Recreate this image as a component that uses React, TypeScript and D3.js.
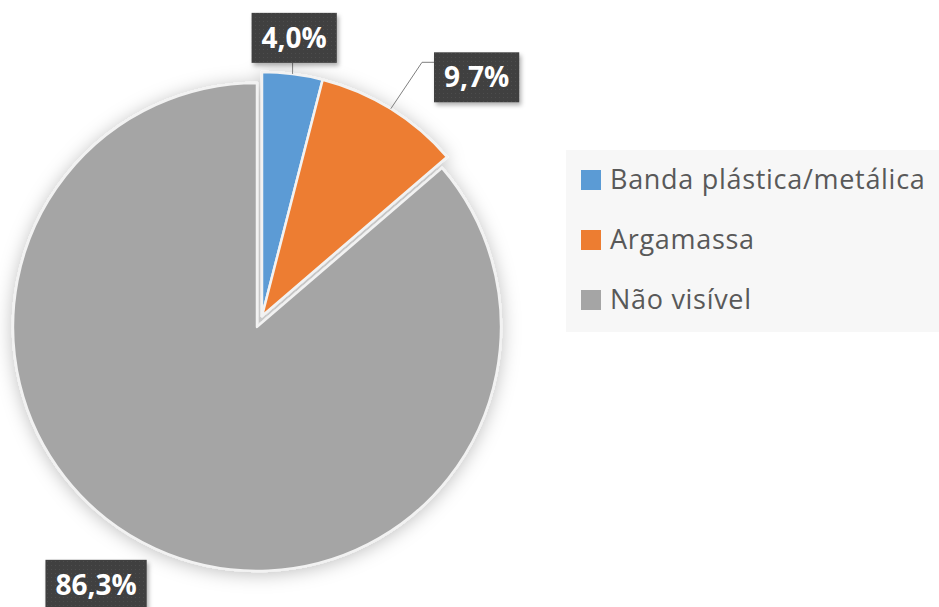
import React, { useEffect, useRef } from "react";
import * as d3 from "d3";

const categories = ["Banda plástica/metálica", "Argamassa", "Não visível"];
const values = [4.0, 9.7, 86.3];
const labels = ["4,0%", "9,7%", "86,3%"];
const colors = ["#5B9BD5", "#ED7D31", "#A5A5A5"];
// how far each slice is pulled out of the pie
const explode = [0, 0, 12];
// label placement: radius from centre and angle nudge (degrees)
const labelRadius = [280, 321, 304];
const labelNudge = [-0.6, 10.1, 7.3];

const W = 939;
const H = 607;

const App = () => {
  const svgRef = useRef<SVGSVGElement>(null);

  useEffect(() => {
    const svg = d3.select(svgRef.current);
    svg.selectAll("*").remove();

    const cx = 262;
    const cy = 316;
    const radius = 244;

    const defs = svg.append("defs");
    const sh = defs.append("filter").attr("id", "pieShadow")
      .attr("x", "-20%").attr("y", "-20%").attr("width", "140%").attr("height", "140%");
    sh.append("feDropShadow").attr("dx", 0).attr("dy", 2)
      .attr("stdDeviation", 9).attr("flood-color", "#000").attr("flood-opacity", 0.25);

    const bs = defs.append("filter").attr("id", "boxShadow")
      .attr("x", "-20%").attr("y", "-20%").attr("width", "150%").attr("height", "150%");
    bs.append("feDropShadow").attr("dx", 2).attr("dy", 3)
      .attr("stdDeviation", 2).attr("flood-color", "#000").attr("flood-opacity", 0.3);

    const pat = defs.append("pattern").attr("id", "dots")
      .attr("width", 4).attr("height", 4).attr("patternUnits", "userSpaceOnUse");
    pat.append("rect").attr("width", 4).attr("height", 4).attr("fill", "#404040");
    pat.append("rect").attr("x", 1).attr("y", 1).attr("width", 1).attr("height", 1).attr("fill", "#4d4d4d");

    const pie = d3.pie<number>().sort(null).value(d => d);
    const arcs = pie(values);
    const arc = d3.arc<d3.PieArcDatum<number>>().innerRadius(0).outerRadius(radius);

    const g = svg.append("g").attr("transform", `translate(${cx},${cy})`);

    const offset = (d: d3.PieArcDatum<number>, i: number) => {
      const mid = (d.startAngle + d.endAngle) / 2;
      return [Math.sin(mid) * explode[i], -Math.cos(mid) * explode[i]];
    };

    g.append("g").attr("filter", "url(#pieShadow)")
      .selectAll("path")
      .data(arcs)
      .join("path")
      .attr("transform", (d, i) => { const [x, y] = offset(d, i); return `translate(${x},${y})`; })
      .attr("d", arc)
      .attr("fill", (d, i) => colors[i])
      .attr("stroke", "#f2f2f2")
      .attr("stroke-width", 2.5)
      .attr("stroke-linejoin", "round");

    // data labels
    arcs.forEach((d, i) => {
      const mid = (d.startAngle + d.endAngle) / 2;
      const [ox, oy] = offset(d, i);
      const anchor = [ox + Math.sin(mid) * radius, oy - Math.cos(mid) * radius];
      const a = mid + (labelNudge[i] * Math.PI) / 180;
      const lc = [ox + Math.sin(a) * labelRadius[i], oy - Math.cos(a) * labelRadius[i]];

      const lg = g.append("g");
      const t = lg.append("text")
        .attr("x", lc[0]).attr("y", lc[1] + 10)
        .attr("text-anchor", "middle")
        .attr("font-family", "'Open Sans', sans-serif")
        .attr("font-weight", 700)
        .attr("font-size", 28)
        .attr("fill", "#fff")
        .text(labels[i]);
      const bb = (t.node() as SVGTextElement).getBBox();
      const bw = bb.width + 20;
      const bh = 50;
      const bx = lc[0] - bw / 2;
      const by = lc[1] - bh / 2;

      // leader line
      if (i === 0) {
        g.insert("path", () => lg.node())
          .attr("d", `M${anchor[0]},${anchor[1]}L${anchor[0]},${by + bh}`)
          .attr("stroke", "#7f7f7f").attr("stroke-width", 1).attr("fill", "none");
      } else if (i === 1) {
        const elbowX = bx - 12;
        const ly = by + 10;
        g.insert("path", () => lg.node())
          .attr("d", `M${anchor[0]},${anchor[1]}L${elbowX},${ly}L${bx},${ly}`)
          .attr("stroke", "#7f7f7f").attr("stroke-width", 1).attr("fill", "none");
      }

      lg.insert("rect", "text")
        .attr("x", bx).attr("y", by).attr("width", bw).attr("height", bh)
        .attr("fill", "url(#dots)")
        .attr("filter", "url(#boxShadow)");
    });

    // legend
    const legend = svg.append("g").attr("transform", "translate(566,150)");
    legend.append("rect").attr("width", W - 566).attr("height", 182).attr("fill", "#f7f7f7");
    const rowY = d3.scalePoint<string>().domain(categories).range([40, 160]);
    categories.forEach((c, i) => {
      const y = rowY(c) as number;
      legend.append("rect")
        .attr("x", 15).attr("y", y - 20).attr("width", 20).attr("height", 20)
        .attr("fill", colors[i]);
      legend.append("text")
        .attr("x", 44).attr("y", y - 1)
        .attr("font-family", "'Open Sans', sans-serif")
        .attr("font-size", 27)
        .attr("letter-spacing", 0.7)
        .attr("fill", "#595959")
        .text(c);
    });
  }, []);

  return (
    <svg
      ref={svgRef}
      width={W}
      height={H}
      style={{ position: "absolute", left: 0, top: 0, background: "#fff" }}
    />
  );
};

export default App;
